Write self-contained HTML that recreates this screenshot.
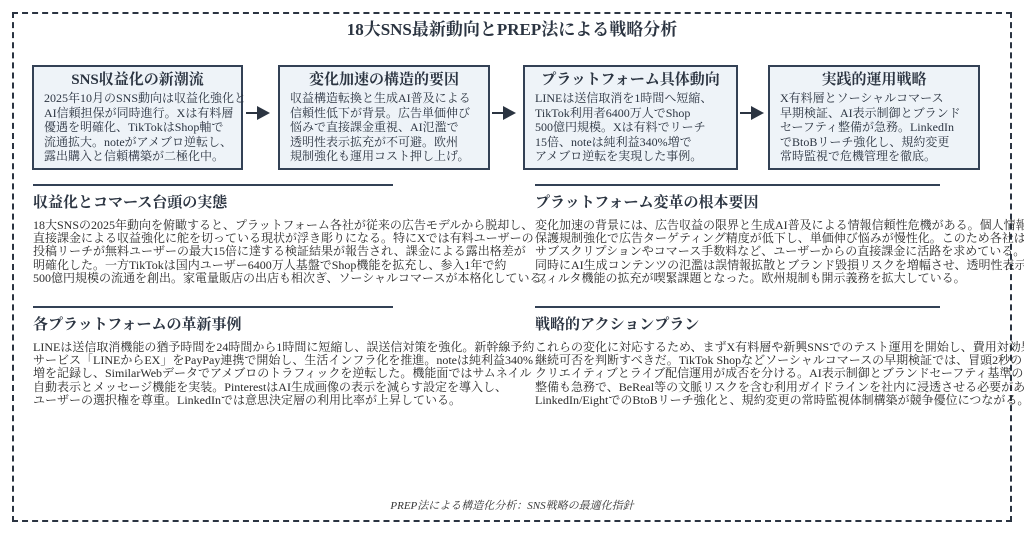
<!DOCTYPE html>
<html><head><meta charset="utf-8"><style>
*{margin:0;padding:0;box-sizing:border-box}
body{width:1024px;height:533px;background:#fff;position:relative;overflow:hidden;font-family:"Liberation Serif","Noto Serif CJK SC",serif;color:#2b3441}
.frame{position:absolute;left:12px;top:12px;width:1000px;height:510px;border:2px dashed #2b3441}
.title{position:absolute;left:0;width:1024px;top:15px;text-align:center;font-size:17px;font-weight:bold;color:#2b3441}
.box{position:absolute;top:65px;height:105px;background:#eef3f8;border:2px solid #334155;padding:4px 0 0 10px}
.box h3{font-size:15px;text-align:center;margin-left:-10px;line-height:19px;font-weight:bold}
.box p{font-size:12px;line-height:14.6px;white-space:nowrap;margin-top:1px}
.arr{position:absolute;top:112px;height:2px;background:#2b3441}
.arr:after{content:"";position:absolute;right:-12px;top:-6px;border-left:13px solid #2b3441;border-top:7px solid transparent;border-bottom:7px solid transparent}
.sec{position:absolute}
.sec .ln{width:360px;height:2px;background:#334155}
.sec .ln2{width:405px}
.sec h4{font-size:15px;font-weight:bold;margin-top:8px;line-height:18px}
.sec p{font-size:12px;line-height:13.2px;white-space:nowrap;margin-top:7px;color:#2a2a2a}
.foot{position:absolute;top:497px;width:1024px;text-align:center;font-size:11px;font-style:italic;color:#333}
</style></head><body>
<div class="frame"></div>
<div class="title">18大SNS最新動向とPREP法による戦略分析</div>

<div class="box" style="left:32px;width:211px"><h3>SNS収益化の新潮流</h3><p>2025年10月のSNS動向は収益化強化と<br>AI信頼担保が同時進行。Xは有料層<br>優遇を明確化、TikTokはShop軸で<br>流通拡大。noteがアメブロ逆転し、<br>露出購入と信頼構築が二極化中。</p></div>
<div class="arr" style="left:246px;width:12px"></div>
<div class="box" style="left:278px;width:212px"><h3>変化加速の構造的要因</h3><p>収益構造転換と生成AI普及による<br>信頼性低下が背景。広告単価伸び<br>悩みで直接課金重視、AI氾濫で<br>透明性表示拡充が不可避。欧州<br>規制強化も運用コスト押し上げ。</p></div>
<div class="arr" style="left:492px;width:12px"></div>
<div class="box" style="left:523px;width:215px"><h3>プラットフォーム具体動向</h3><p>LINEは送信取消を1時間へ短縮、<br>TikTok利用者6400万人でShop<br>500億円規模。Xは有料でリーチ<br>15倍、noteは純利益340%増で<br>アメブロ逆転を実現した事例。</p></div>
<div class="arr" style="left:740px;width:12px"></div>
<div class="box" style="left:768px;width:212px"><h3>実践的運用戦略</h3><p>X有料層とソーシャルコマース<br>早期検証、AI表示制御とブランド<br>セーフティ整備が急務。LinkedIn<br>でBtoBリーチ強化し、規約変更<br>常時監視で危機管理を徹底。</p></div>

<div class="sec" style="left:33px;top:184px"><div class="ln"></div><h4>収益化とコマース台頭の実態</h4><p>18大SNSの2025年動向を俯瞰すると、プラットフォーム各社が従来の広告モデルから脱却し、<br>直接課金による収益強化に舵を切っている現状が浮き彫りになる。特にXでは有料ユーザーの<br>投稿リーチが無料ユーザーの最大15倍に達する検証結果が報告され、課金による露出格差が<br>明確化した。一方TikTokは国内ユーザー6400万人基盤でShop機能を拡充し、参入1年で約<br>500億円規模の流通を創出。家電量販店の出店も相次ぎ、ソーシャルコマースが本格化している。</p></div>
<div class="sec" style="left:535px;top:184px"><div class="ln ln2"></div><h4>プラットフォーム変革の根本要因</h4><p>変化加速の背景には、広告収益の限界と生成AI普及による情報信頼性危機がある。個人情報<br>保護規制強化で広告ターゲティング精度が低下し、単価伸び悩みが慢性化。このため各社は<br>サブスクリプションやコマース手数料など、ユーザーからの直接課金に活路を求めている。<br>同時にAI生成コンテンツの氾濫は誤情報拡散とブランド毀損リスクを増幅させ、透明性表示や<br>フィルタ機能の拡充が喫緊課題となった。欧州規制も開示義務を拡大している。</p></div>
<div class="sec" style="left:33px;top:306px"><div class="ln"></div><h4>各プラットフォームの革新事例</h4><p>LINEは送信取消機能の猶予時間を24時間から1時間に短縮し、誤送信対策を強化。新幹線予約<br>サービス「LINEからEX」をPayPay連携で開始し、生活インフラ化を推進。noteは純利益340%<br>増を記録し、SimilarWebデータでアメブロのトラフィックを逆転した。機能面ではサムネイル<br>自動表示とメッセージ機能を実装。PinterestはAI生成画像の表示を減らす設定を導入し、<br>ユーザーの選択権を尊重。LinkedInでは意思決定層の利用比率が上昇している。</p></div>
<div class="sec" style="left:535px;top:306px"><div class="ln ln2"></div><h4>戦略的アクションプラン</h4><p>これらの変化に対応するため、まずX有料層や新興SNSでのテスト運用を開始し、費用対効果で<br>継続可否を判断すべきだ。TikTok Shopなどソーシャルコマースの早期検証では、冒頭2秒の<br>クリエイティブとライブ配信運用が成否を分ける。AI表示制御とブランドセーフティ基準の<br>整備も急務で、BeReal等の文脈リスクを含む利用ガイドラインを社内に浸透させる必要がある。<br>LinkedIn/EightでのBtoBリーチ強化と、規約変更の常時監視体制構築が競争優位につながる。</p></div>

<div class="foot">PREP法による構造化分析：SNS戦略の最適化指針</div>
</body></html>
